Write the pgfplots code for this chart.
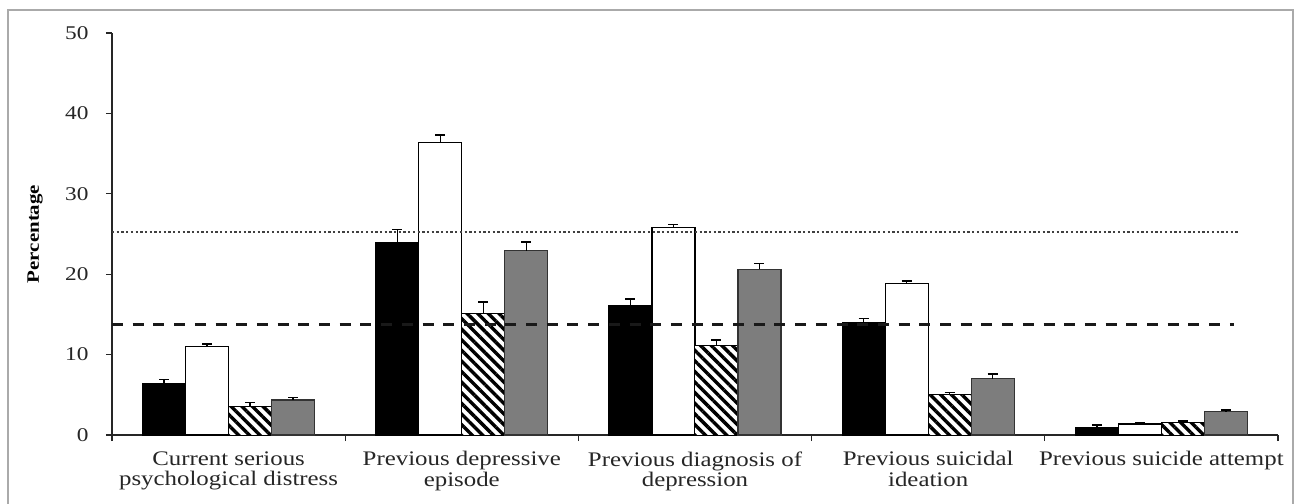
\documentclass[border=0pt]{standalone}
\usepackage{fontspec}
\setmainfont{Liberation Serif}[FakeStretch=1.2]
\usepackage{pgfplots}
\pgfplotsset{compat=1.18}
\usetikzlibrary{patterns.meta}
\definecolor{bargray}{RGB}{125,125,125}
\definecolor{framegray}{RGB}{170,170,170}
\pgfplotsset{
  common/.style={
    at={(112bp,69bp)}, anchor=south west,
    scale only axis, width=1166bp, height=402bp,
    xmin=-0.5, xmax=4.5, ymin=0, ymax=50,
  },
  eb/.style={
    error bars/.cd, y dir=plus, y explicit,
    error bar style={line width=1.3bp, black},
    error mark options={rotate=90, mark size=5bp, line width=1.3bp, black}
  }
}
\begin{document}
\begin{tikzpicture}
\path[use as bounding box] (0,0) rectangle (1297bp,504bp);
\begin{axis}[
  common,
  ybar=0pt, bar width=43bp,
  axis x line=bottom, axis y line=left,
  axis line style={-, line width=1.3bp, black!85},
  ytick={0,10,...,50},
  xtick={0,1,2,3,4},
  xticklabels={{Current serious\\psychological distress},{Previous depressive\\episode},{Previous diagnosis of\\depression},{Previous suicidal\\ideation},{Previous suicide attempt}},
  xticklabel style={align=center, font=\fontsize{20.8}{20.5}\selectfont, text=black!85, yshift=-7bp},
  yticklabel style={font=\fontsize{19.5}{20}\selectfont, text=black!85, xshift=-14bp},
  /pgf/number format/assume math mode=true,
  major x tick style={draw=none},
  minor xtick={-0.5,0.5,...,4.5},
  minor tick length=6bp, major tick length=6bp,
  tick align=outside,
  tick style={line width=1.2bp, black!85},
  ylabel={\textbf{Percentage}},
  ylabel style={at={(axis description cs:-0.066,0.5)}, anchor=center, font=\fontsize{17.5}{18}\selectfont},
  clip=false,
]
\addplot[fill=black, draw=black, line width=1bp, eb]
coordinates {(0,6.4) += (0,0.5) (1,24.0) += (0,1.6) (2,16.1) += (0,0.8) (3,14.05) += (0,0.4) (4,0.95) += (0,0.3)};
\addplot[fill=white, draw=black, line width=1.2bp, eb]
coordinates {(0,11.0) += (0,0.3) (1,36.4) += (0,0.9) (2,25.8) += (0,0.4) (3,18.8) += (0,0.35) (4,1.37) += (0,0.2)};
\addplot[draw=black, line width=1bp,
  preaction={fill=white},
  pattern={Lines[angle=-45, distance=7.5bp, line width=3.4bp]}, pattern color=black, eb]
coordinates {(0,3.5) += (0,0.5) (1,15.05) += (0,1.5) (2,11.1) += (0,0.7) (3,5.05) += (0,0.25) (4,1.58) += (0,0.16)};
\addplot[fill=bargray, draw=black!80, line width=1.2bp, eb]
coordinates {(0,4.35) += (0,0.35) (1,22.9) += (0,1.1) (2,20.6) += (0,0.7) (3,7.0) += (0,0.6) (4,2.9) += (0,0.2)};
\end{axis}
\begin{axis}[common, hide axis, clip=false]
\addplot[sharp plot, black!75, line width=2.3bp, dash pattern=on 2.3bp off 2.4bp]
coordinates {(-0.5,25.25) (4.33,25.25)};
\addplot[sharp plot, black!90, line width=3bp, dash pattern=on 11bp off 9.7bp]
coordinates {(-0.5,13.8) (4.31,13.8)};
\end{axis}
\draw[framegray, line width=1.5bp] (8bp,-2bp) -- (8bp,494bp) -- (1293bp,494bp) -- (1293bp,-2bp);
\end{tikzpicture}
\end{document}
